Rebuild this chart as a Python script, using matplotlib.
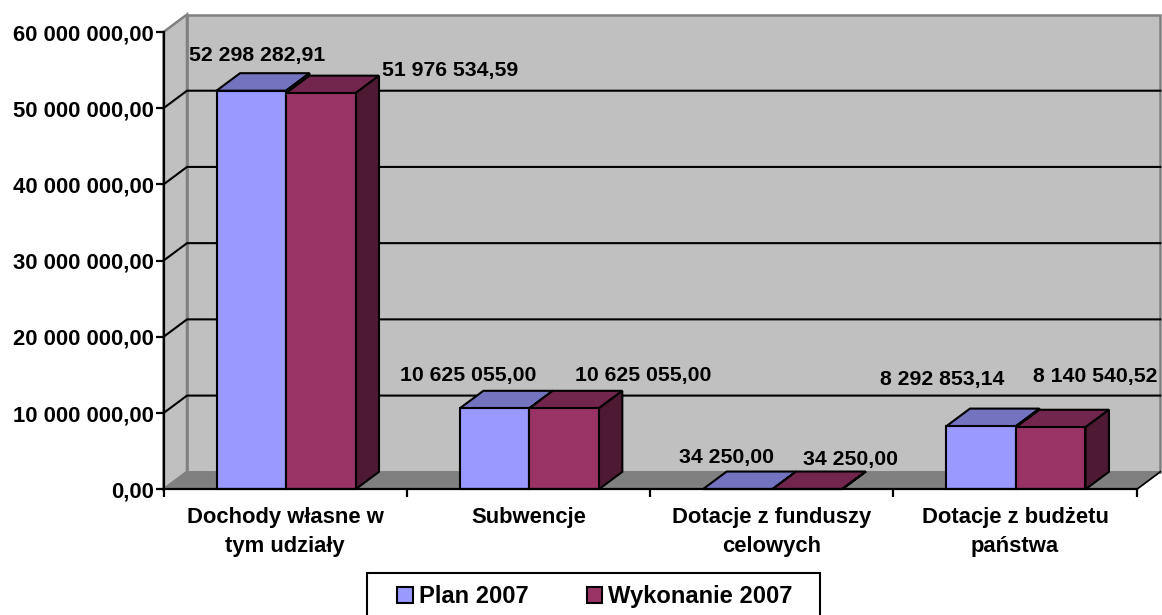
import matplotlib
matplotlib.use("Agg")
import matplotlib.pyplot as plt
from matplotlib.patches import Polygon, Patch, Rectangle

categories = ["Dochody własne w\ntym udziały", "Subwencje",
              "Dotacje z funduszy\ncelowych", "Dotacje z budżetu\npaństwa"]
plan_2007 = [52298282.91, 10625055.00, 34250.00, 8292853.14]
wykonanie_2007 = [51976534.59, 10625055.00, 34250.00, 8140540.52]
plan_labels = ["52 298 282,91", "10 625 055,00", "34 250,00", "8 292 853,14"]
wykonanie_labels = ["51 976 534,59", "10 625 055,00", "34 250,00", "8 140 540,52"]
y_ticks = [0, 10e6, 20e6, 30e6, 40e6, 50e6, 60e6]
y_tick_labels = ["0,00", "10 000 000,00", "20 000 000,00", "30 000 000,00",
                 "40 000 000,00", "50 000 000,00", "60 000 000,00"]
series_names = ["Plan 2007", "Wykonanie 2007"]

plt.rcParams["font.family"] = ["Liberation Sans", "DejaVu Sans"]
plt.rcParams["font.weight"] = "bold"

W, H = 1162, 615
L, R, T, B = 163.5, 1136.8, 32, 489.3
fig = plt.figure(figsize=(W / 100, H / 100), dpi=100, facecolor="white")
ax = fig.add_axes([L / W, 1 - B / H, (R - L) / W, (B - T) / H])
ax.set_xlim(0, 4)
ax.set_ylim(0, 60e6)
ax.patch.set_visible(False)

px = 4 / (R - L)
py = 60e6 / (B - T)
dx, dy = 23.5 * px, 17.5 * py
lw = 1.5
WALL, FLOOR, EDGE = "#C0C0C0", "#808080", "#808080"


def poly(pts, fc, ec="black", z=2, w=lw):
    ax.add_patch(Polygon(pts, closed=True, facecolor=fc, edgecolor=ec, linewidth=w,
                         zorder=z, clip_on=False, joinstyle="miter"))


poly([(dx, dy), (4 + dx, dy), (4 + dx, 60e6 + dy), (dx, 60e6 + dy)], WALL, EDGE, 1, 1.8)
poly([(0, 0), (dx, dy), (dx, 60e6 + dy), (0, 60e6)], WALL, EDGE, 1, 1.8)
poly([(0, 0), (4, 0), (4 + dx, dy), (dx, dy)], FLOOR, EDGE, 1, 1.0)

for v in y_ticks[1:-1]:
    ax.plot([0, dx, 4 + dx], [v, v + dy, v + dy], color="black", lw=1.5, zorder=1.5,
            clip_on=False, solid_joinstyle="miter")
ax.plot([4, 4 + dx], [0, dy], color="black", lw=1.2, zorder=1.6, clip_on=False)

bar_w = 69.5 * px
gap = 53 * px
styles = [("#9999FF", "#7373BF", "#4D4D80"), ("#993366", "#73264D", "#4D1933")]
for i in range(len(categories)):
    for j, vals in enumerate((plan_2007, wykonanie_2007)):
        x0 = i + gap + j * bar_w
        x1 = x0 + bar_w
        v = vals[i]
        front, top, side = styles[j]
        z = 3 + j
        poly([(x0, v), (x1, v), (x1 + dx, v + dy), (x0 + dx, v + dy)], top, z=z)
        poly([(x1, 0), (x1 + dx, dy), (x1 + dx, v + dy), (x1, v)], side, z=z)
        poly([(x0, 0), (x1, 0), (x1, v), (x0, v)], front, z=z)

# label offsets (pixels) from the front-top centre of each bar
plan_off = [(6, 35), (-26, 33), (-11, 32), (-39, 47)]
wyk_off = [(129, 23), (79, 33), (43, 30), (45, 51)]
for i in range(len(categories)):
    for j, (vals, labs, off) in enumerate(((plan_2007, plan_labels, plan_off),
                                           (wykonanie_2007, wykonanie_labels, wyk_off))):
        x = i + gap + (j + 0.5) * bar_w
        ax.annotate(labs[i], xy=(x, vals[i]),
                    xytext=(off[i][0] * 0.72, off[i][1] * 0.72), textcoords="offset points",
                    ha="center", va="center", fontsize=15.3, fontweight="bold",
                    color="black", zorder=8, annotation_clip=False)

for s in ("top", "right"):
    ax.spines[s].set_visible(False)
for s in ("left", "bottom"):
    ax.spines[s].set_linewidth(1.6)
    ax.spines[s].set_zorder(6)
ax.set_yticks(y_ticks)
ax.set_yticklabels(y_tick_labels, fontsize=15.9, fontweight="bold")
ax.tick_params(axis="y", length=6, width=1.6, pad=1)
ax.set_xticks([0, 1, 2, 3, 4])
ax.set_xticklabels([])
ax.tick_params(axis="x", which="major", length=6, width=1.6)
ax.set_xticks([0.5, 1.5, 2.5, 3.5], minor=True)
ax.set_xticklabels(categories, minor=True, fontsize=15.8, fontweight="bold", linespacing=1.45)
ax.tick_params(axis="x", which="minor", length=0, pad=13)

# legend frame runs past the lower edge of the picture, as in the reference
fig.add_artist(Rectangle((367 / W, 1 - 640 / H), 453 / W, 67 / H, transform=fig.transFigure,
                         facecolor="white", edgecolor="black", linewidth=1.5, zorder=1))
handles = [Patch(facecolor=styles[k][0], edgecolor="black", linewidth=1.5, label=series_names[k])
           for k in range(2)]
leg = fig.legend(handles=handles, ncols=2, loc="center", bbox_to_anchor=(595 / W, 1 - 596.5 / H),
                 frameon=False,
                 prop={"family": "Liberation Sans", "weight": "bold", "size": 17.1},
                 handlelength=0.66, handleheight=0.66, handletextpad=0.25,
                 columnspacing=2.45, borderpad=0, borderaxespad=0)
leg.set_zorder(5)

fig.savefig("out.png", dpi=100)
